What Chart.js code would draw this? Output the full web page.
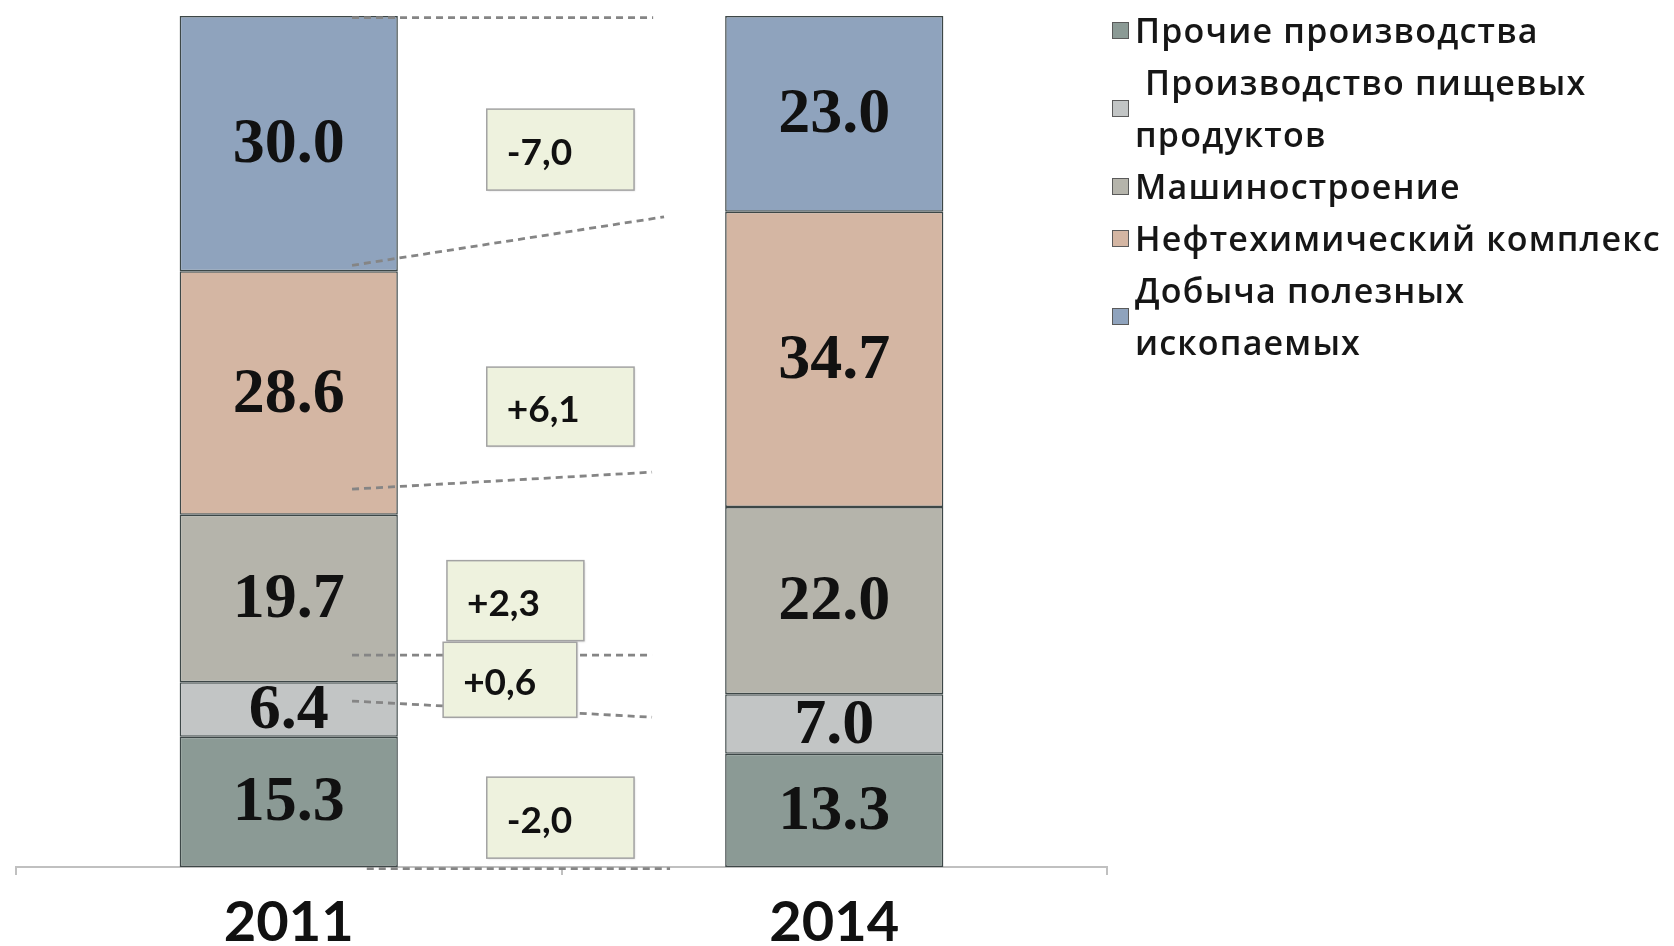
<!DOCTYPE html>
<html><head><meta charset="utf-8">
<script src="https://cdn.jsdelivr.net/npm/chart.js@4.4.1/dist/chart.umd.min.js"></script>
<style>
html,body{margin:0;padding:0;background:#fff;}
#wrap{position:relative;width:1674px;height:946px;overflow:hidden;}
#c{position:absolute;left:0;top:0;}
#legend{position:absolute;left:1112px;top:4px;font-family:"Open Sans",Lato,sans-serif;font-weight:600;font-size:34px;letter-spacing:1.2px;color:#161616;line-height:52px;}
.item{display:flex;align-items:center;}
.mk{width:15px;height:15px;border:1.5px solid #5a5a5a;margin-right:6px;flex:none;box-sizing:content-box;}
.tx{white-space:pre;}
</style></head><body>
<div id="wrap"><canvas id="c" width="1674" height="946"></canvas><div id="legend"></div></div>
<script>
// ---- data ----
const categories = ['2011', '2014'];
const seriesNames = ['Прочие производства', ' Производство пищевых продуктов', 'Машиностроение', 'Нефтехимический комплекс', 'Добыча полезных ископаемых'];
const legendLines = [['Прочие производства'], [' Производство пищевых', 'продуктов'], ['Машиностроение'], ['Нефтехимический комплекс'], ['Добыча полезных', 'ископаемых']];
const otherProd = [15.3, 13.3];
const foodProd = [6.4, 7.0];
const machinery = [19.7, 22.0];
const petrochem = [28.6, 34.7];
const mining = [30.0, 23.0];

// ---- styles / layout ----
const seriesValues = [otherProd, foodProd, machinery, petrochem, mining];
const seriesColors = ['#8b9a95', '#c2c5c5', '#b5b4ab', '#d4b6a3', '#8fa3bd'];
// change boxes: series index, x range (category units), centre (value units), height px
const annBoxes = [
  {s: 4, xl: 0.363, xr: 0.633, yc: 84.3, h: 81},
  {s: 3, xl: 0.363, xr: 0.633, yc: 54.1, h: 79},
  {s: 2, xl: 0.290, xr: 0.541, yc: 31.3, h: 80},
  {s: 1, xl: 0.283, xr: 0.528, yc: 22.0, h: 75},
  {s: 0, xl: 0.363, xr: 0.633, yc: 5.8, h: 81}
];
// dashed connectors (category units / value units)
const connectors = [
  {x0: 0.116, x1: 0.668, v0: 99.8, v1: 99.8},
  {x0: 0.116, x1: 0.688, v0: 70.7, v1: 76.4},
  {x0: 0.116, x1: 0.666, v0: 44.4, v1: 46.4},
  {x0: 0.116, x1: 0.666, v0: 24.9, v1: 24.9},
  {x0: 0.116, x1: 0.666, v0: 19.5, v1: 17.6},
  {x0: 0.143, x1: 0.699, v0: -0.2, v1: -0.2}
];

const fmtDelta = v => (v > 0 ? '+' : '') + v.toFixed(1).replace('.', ',');

const overlay = {
  id: 'overlay',
  afterDatasetsDraw(chart) {
    const ctx = chart.ctx, xs = chart.scales.x, ys = chart.scales.y;
    ctx.save();
    // dashed connectors
    ctx.strokeStyle = '#858585'; ctx.lineWidth = 2.8; ctx.setLineDash([7, 5]);
    connectors.forEach(c => {
      ctx.beginPath();
      ctx.moveTo(xs.getPixelForValue(c.x0), ys.getPixelForValue(c.v0));
      ctx.lineTo(xs.getPixelForValue(c.x1), ys.getPixelForValue(c.v1));
      ctx.stroke();
    });
    ctx.setLineDash([]);
    // value labels in segments
    ctx.font = 'bold 64px "Liberation Serif", "Times New Roman", serif';
    ctx.fillStyle = '#111'; ctx.textAlign = 'center'; ctx.textBaseline = 'middle';
    chart.data.datasets.forEach((ds, di) => {
      chart.getDatasetMeta(di).data.forEach((el, i) => {
        ctx.fillText(ds.data[i].toFixed(1), el.x, (el.y + el.base) / 2 + 2);
      });
    });
    // change boxes
    annBoxes.forEach(b => {
      const v = seriesValues[b.s];
      const x0 = xs.getPixelForValue(b.xl), x1 = xs.getPixelForValue(b.xr);
      const yc = ys.getPixelForValue(b.yc);
      ctx.shadowColor = 'rgba(0,0,0,0.15)'; ctx.shadowOffsetX = 1; ctx.shadowOffsetY = 1; ctx.shadowBlur = 2;
      ctx.fillStyle = '#eef2de';
      ctx.fillRect(x0, yc - b.h / 2, x1 - x0, b.h);
      ctx.shadowColor = 'transparent';
      ctx.strokeStyle = '#a3a3a3'; ctx.lineWidth = 1.5;
      ctx.strokeRect(x0, yc - b.h / 2, x1 - x0, b.h);
      ctx.fillStyle = '#111'; ctx.textAlign = 'left'; ctx.textBaseline = 'middle';
      ctx.font = 'bold 37px Lato, "Open Sans", sans-serif';
      ctx.fillText(fmtDelta(v[1] - v[0]), x0 + 20, yc + 3);
    });
    ctx.restore();
  }
};

const chart = new Chart(document.getElementById('c'), {
  type: 'bar',
  data: {
    labels: categories,
    datasets: seriesValues.map((vals, i) => ({
      label: seriesNames[i],
      data: vals,
      backgroundColor: seriesColors[i],
      borderColor: '#3d4747',
      borderWidth: 1.5,
      borderSkipped: false,
      barPercentage: 0.8,
      categoryPercentage: 0.5
    }))
  },
  options: {
    responsive: false,
    devicePixelRatio: 1,
    animation: false,
    layout: {padding: {left: 16, right: 567, top: 16, bottom: 0}},
    plugins: {legend: {display: false}, tooltip: {enabled: false}},
    scales: {
      x: {
        stacked: true,
        offset: true,
        afterFit: s => { s.height = 79; },
        grid: {display: true, drawOnChartArea: false, drawTicks: true, tickLength: 8, color: '#c0c0c0', lineWidth: 2, offset: true},
        border: {display: true, color: '#c0c0c0', width: 2},
        ticks: {color: '#111', padding: 14, font: {family: 'Lato, "Open Sans", sans-serif', size: 56, weight: 'bold'}}
      },
      y: {stacked: true, display: false, min: 0, max: 100}
    }
  },
  plugins: [overlay]
});

// legend (HTML, real text)
const lg = document.getElementById('legend');
legendLines.forEach((lines, i) => {
  const it = document.createElement('div'); it.className = 'item';
  const mk = document.createElement('div'); mk.className = 'mk'; mk.style.background = seriesColors[i];
  const tx = document.createElement('div'); tx.className = 'tx'; tx.textContent = lines.join('\n');
  it.appendChild(mk); it.appendChild(tx); lg.appendChild(it);
});
</script>
</body></html>
